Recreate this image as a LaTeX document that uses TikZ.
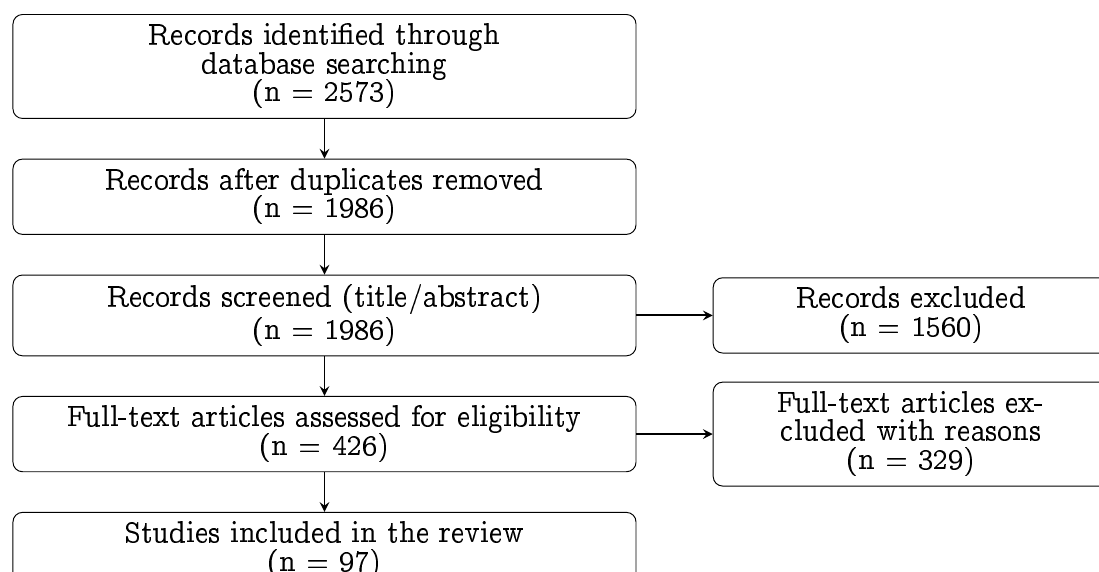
\documentclass[tikz,border=0pt]{standalone}
\usepackage[OT1]{fontenc}
\usepackage{ccfonts}
\DeclareFontFamily{OT1}{ccr}{\hyphenchar\font45 }
\DeclareFontShape{OT1}{ccr}{m}{n}{<-> ccr10}{}
\usepackage{tikz}
\usetikzlibrary{calc}
\usetikzlibrary{positioning,arrows.meta}

\begin{document}
\begin{tikzpicture}[box/.style={rectangle, rounded corners, draw, align=center, text width=254pt, inner xsep=3.33pt, inner ysep=3.8pt, font=\fontsize{12.6pt}{12pt}\selectfont},
                    sidebox/.style={box, text width=159pt},
                    node distance=16.6pt]
        %% Main flow
        \node[box] (ident) {Records identified through\\ database searching\\ (n = 2573)};
        \node[box, below=of ident] (dedup) {Records after duplicates removed\\ (n = 1986)};
        \node[box, below=of dedup] (screen) {Records screened (title/abstract)\\ (n = 1986)};
        \node[box, below=of screen] (full) {Full-text articles assessed for eligibility\\ (n = 426)};
        \node[box, below=of full] (incl) {Studies included in the review\\ (n = 97)};

        %% Exclusions
        \node[sidebox, right=31.9pt of screen] (excl1) {Records excluded\\ (n = 1560)};
        \node[sidebox, right=31.9pt of full] (excl2) {Full-text articles ex-\\ cluded with reasons\\ (n = 329)};

        \draw[-stealth, thick] (ident) -- (dedup);
        \draw[-stealth, thick] (dedup) -- (screen);
        \draw[-stealth, thick] (screen) -- (full);
        \draw[-stealth, thick] (full) -- (incl);
        \draw[-stealth, thick] (screen) -- (excl1);
        \draw[-stealth, thick] (full) -- (excl2);

        %% Frame
        \pgfresetboundingbox
        \useasboundingbox ($(ident.north west)+(-5.23pt,5.86pt)$) rectangle ++(459.8pt,-239.3pt);
    \end{tikzpicture}
\end{document}
